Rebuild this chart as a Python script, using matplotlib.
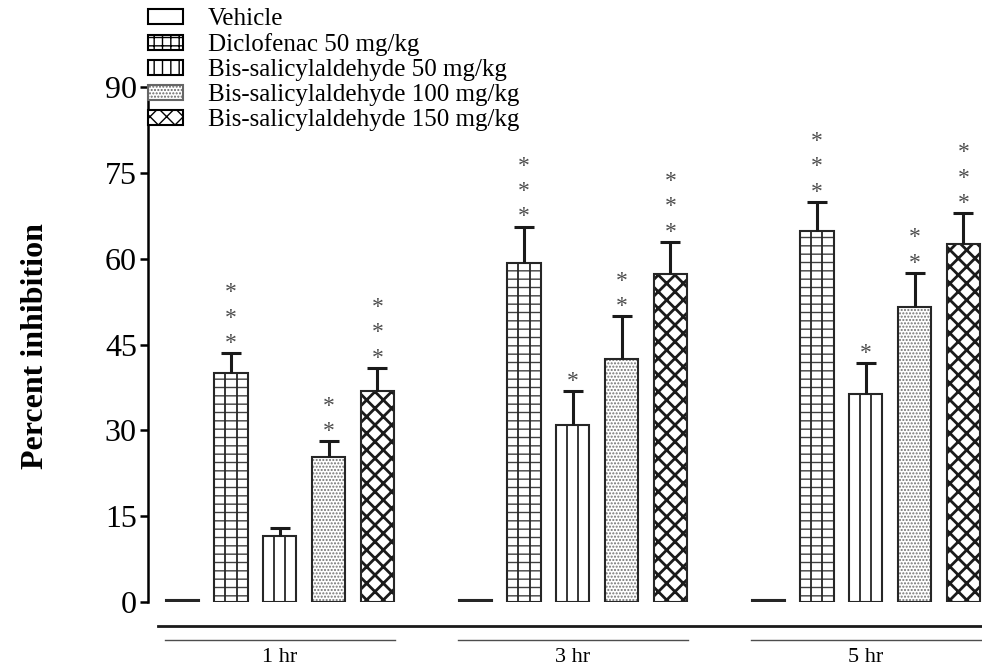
import matplotlib.pyplot as plt
from matplotlib.patches import Patch
import numpy as np

# data (percent inhibition, mean and upper error)
groups = ['1 hr', '3 hr', '5 hr']
treatments = ['Vehicle', 'Diclofenac 50 mg/kg', 'Bis-salicylaldehyde 50 mg/kg',
              'Bis-salicylaldehyde 100 mg/kg', 'Bis-salicylaldehyde 150 mg/kg']
vehicle = [0.3, 0.3, 0.3]
diclofenac = [40.0, 59.2, 64.9]
bis50 = [11.6, 30.9, 36.4]
bis100 = [25.3, 42.5, 51.6]
bis150 = [36.9, 57.4, 62.5]
vehicle_err = [0.0, 0.0, 0.0]
diclofenac_err = [3.5, 6.4, 5.0]
bis50_err = [1.3, 6.0, 5.3]
bis100_err = [2.8, 7.4, 5.9]
bis150_err = [4.0, 5.5, 5.4]
stars_dic = [3, 3, 3]
stars_b50 = [0, 1, 1]
stars_b100 = [2, 2, 2]
stars_b150 = [3, 3, 3]
vehicle_stars = [0, 0, 0]

plt.rcParams['font.family'] = ['Liberation Serif', 'DejaVu Serif']

fig = plt.figure(figsize=(9.82, 6.66), dpi=100)
ax = fig.add_axes([148 / 982, 64 / 666, 834 / 982, 515 / 666])

values = [vehicle, diclofenac, bis50, bis100, bis150]
errors = [vehicle_err, diclofenac_err, bis50_err, bis100_err, bis150_err]
stars = [vehicle_stars, stars_dic, stars_b50, stars_b100, stars_b150]
hatches = [None, '--', None, '.....', 'xx']
hatch_cols = ['k', '0.25', 'k', '0.45', '0.1']
vlines_in = [False, True, True, False, False]

group_x = np.arange(len(groups)) * 6.0
width = 0.68
edge = '0.15'

for i in range(len(treatments)):
    x = group_x + (i - 2)
    lw = 2.0 if i == 4 else 1.0
    plt.rcParams['hatch.linewidth'] = lw
    if hatches[i]:
        ax.bar(x, values[i], width, color='white', edgecolor=hatch_cols[i],
               linewidth=0, hatch=hatches[i], zorder=2)
    bars = ax.bar(x, values[i], width, fill=False, edgecolor=edge, linewidth=1.5, zorder=3)
    if vlines_in[i]:
        for b in bars:
            x0 = b.get_x()
            w = b.get_width()
            ax.vlines([x0 + w / 3, x0 + 2 * w / 3], 0, b.get_height(),
                      colors=edge, linewidth=1.3, zorder=3)
    if i > 0:
        eb = ax.errorbar(x, values[i], yerr=[np.zeros(3), errors[i]], fmt='none',
                         ecolor='0.1', elinewidth=2.2, capsize=7, capthick=2.2, zorder=4)
        eb[1][0].set_visible(False)
        for xx, v, e, n in zip(x, values[i], errors[i], stars[i]):
            for k in range(n):
                ax.annotate('*', (xx, v + e), xytext=(0, 3 + 18.3 * k),
                            textcoords='offset points', ha='center', va='baseline',
                            fontsize=17, color='0.3')

ax.set_ylim(0, 90)
ax.set_xlim(-2.7, 14.38)
ax.set_yticks(np.arange(0, 91, 15))
ax.tick_params(axis='y', labelsize=23, width=1.8, length=6, direction='out', pad=2)
ax.set_xticks([])
for s in ['top', 'right', 'bottom']:
    ax.spines[s].set_visible(False)
ax.spines['left'].set_linewidth(1.8)

# axis line and group lines below the bars
tr = ax.get_xaxis_transform()
ax.plot([-2.5, 14.38], [-0.046, -0.046], color='0.1', linewidth=2.0, transform=tr, clip_on=False)
for gx, g in zip(group_x, groups):
    ax.plot([gx - 2.35, gx + 2.35], [-0.073, -0.073], color='0.3', linewidth=1.0,
            transform=tr, clip_on=False)
    ax.text(gx, -0.117, g, transform=tr, ha='center', va='baseline', fontsize=16)

fig.text(0.036, 0.48, 'Percent inhibition', rotation=90, ha='center', va='center',
         fontsize=23, fontweight='bold')

plt.rcParams['hatch.linewidth'] = 1.0
handles = [
    Patch(facecolor='white', edgecolor='k', hatch='-', linewidth=1.5),
    Patch(facecolor='white', edgecolor='k', hatch='++', linewidth=1.5),
    Patch(facecolor='white', edgecolor='k', hatch='||', linewidth=1.5),
    Patch(facecolor='white', edgecolor='0.4', hatch='.....', linewidth=1.5),
    Patch(facecolor='white', edgecolor='k', hatch='xx', linewidth=1.5),
]
fig.legend(handles, treatments, loc='upper left', bbox_to_anchor=(148 / 982, 1 - 8 / 666),
           frameon=False, fontsize=18, handlelength=1.4, handleheight=0.55,
           handletextpad=1.0, labelspacing=0.12, borderpad=0, borderaxespad=0)

fig.savefig('out.png', dpi=100)
